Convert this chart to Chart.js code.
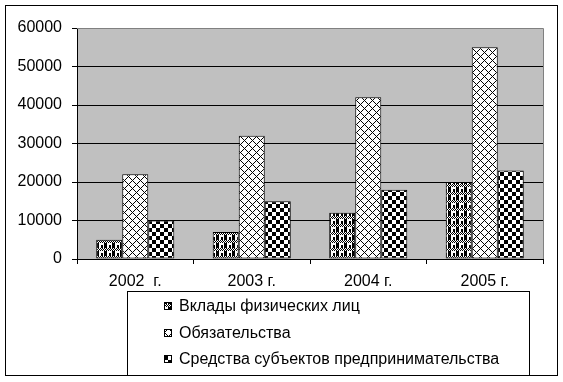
<!DOCTYPE html>
<html>
<head>
<meta charset="utf-8">
<script src="https://cdn.jsdelivr.net/npm/chart.js@4/dist/chart.umd.min.js"></script>
<style>
  html, body { margin: 0; padding: 0; background: #fff; }
  #wrap { width: 563px; height: 382px; position: relative; }
</style>
</head>
<body>
<div id="wrap"><canvas id="chart" width="563" height="382"></canvas></div>
<script>
// ===== data =====
const YEARS = ['2002  г.', '2003 г.', '2004 г.', '2005 г.'];
const SERIES_NAMES = ['Вклады физических лиц', 'Обязательства', 'Средства субъектов предпринимательства'];
const DEPOSITS = [5000, 7000, 12000, 20000];
const LIABILITIES = [22000, 32000, 42000, 55000];
const BUSINESS_FUNDS = [10000, 15000, 18000, 23000];
const Y_TICKS = [0, 10000, 20000, 30000, 40000, 50000, 60000];

const FONT = '"Liberation Sans", Arial, sans-serif';

// 8x8 monochrome tiles -> canvas patterns
function makePattern(isBlack) {
  const c = document.createElement('canvas');
  c.width = 8; c.height = 8;
  const g = c.getContext('2d');
  const img = g.createImageData(8, 8);
  for (let y = 0; y < 8; y++) {
    for (let x = 0; x < 8; x++) {
      const v = isBlack(x, y) ? 0 : 255;
      const i = (y * 8 + x) * 4;
      img.data[i] = img.data[i + 1] = img.data[i + 2] = v;
      img.data[i + 3] = 255;
    }
  }
  g.putImageData(img, 0, 0);
  return g.createPattern(c, 'repeat');
}

// fine checker band + blocky rows
const patDeposits = makePattern((x, y) => y < 3 ? (x + y) % 2 === 0 : (x % 8 < 3 || (x % 8 > 4 && x % 8 < 7 && y > 4)));
const patLiab = makePattern((x, y) => x === y || x === (8 - y) % 8);
const patBusiness = makePattern((x, y) => ((x >> 2) + (y >> 2)) % 2 === 0);
const PATTERNS = [patDeposits, patLiab, patBusiness];

// frame, plot background, right/top gray border and legend box
const framePlugin = {
  id: 'frame',
  beforeDraw(chart) {
    const { ctx, chartArea: a } = chart;
    ctx.save();
    ctx.fillStyle = '#fff';
    ctx.fillRect(0, 0, chart.width, chart.height);
    ctx.fillStyle = '#c0c0c0';
    ctx.fillRect(a.left, a.top, a.right - a.left, a.bottom - a.top);
    ctx.restore();
  },
  afterDraw(chart) {
    const { ctx, chartArea: a } = chart;
    ctx.save();
    ctx.lineWidth = 1;
    // gray plot border (top / right)
    ctx.strokeStyle = '#808080';
    ctx.beginPath();
    ctx.moveTo(a.left, a.top + 0.5);
    ctx.lineTo(a.right + 0.5, a.top + 0.5);
    ctx.lineTo(a.right + 0.5, a.bottom);
    ctx.stroke();
    // outer frame
    ctx.strokeStyle = '#000';
    ctx.strokeRect(5.5, 5.5, 552, 370);
    // legend box
    ctx.strokeRect(127.5, 291.5, 402, 84);
    ctx.font = '16px ' + FONT;
    ctx.textBaseline = 'middle';
    chart.data.datasets.forEach((ds, i) => {
      const cy = Math.round(306 + i * 26.5);
      ctx.fillStyle = ds.backgroundColor;
      ctx.fillRect(164, cy - 4, 8, 8);
      ctx.strokeStyle = '#000';
      ctx.strokeRect(164.5, cy - 3.5, 7, 7);
      ctx.fillStyle = '#000';
      ctx.fillText(ds.label, 179, cy + 1);
    });
    ctx.restore();
  }
};

new Chart(document.getElementById('chart'), {
  type: 'bar',
  data: {
    labels: YEARS,
    datasets: [DEPOSITS, LIABILITIES, BUSINESS_FUNDS].map((d, i) => ({
      label: SERIES_NAMES[i],
      data: d,
      backgroundColor: PATTERNS[i],
      borderColor: '#000',
      borderWidth: 1,
      borderSkipped: false,
      categoryPercentage: 0.67,
      barPercentage: 1
    }))
  },
  options: {
    responsive: false,
    animation: false,
    layout: { padding: { top: 28, right: 20, left: 0, bottom: 0 } },
    plugins: { legend: { display: false }, tooltip: { enabled: false } },
    scales: {
      x: {
        afterFit: s => { s.height = 123; },
        grid: { offset: true, drawOnChartArea: false, drawTicks: true, tickLength: 5, color: '#000', tickColor: '#000' },
        border: { color: '#000' },
        ticks: { color: '#000', font: { family: FONT, size: 16 }, padding: 8, maxRotation: 0 }
      },
      y: {
        min: 0, max: 60000,
        afterFit: s => { s.width = 77; },
        afterBuildTicks: s => { s.ticks = Y_TICKS.map(v => ({ value: v })); },
        grid: {
          color: c => c.tick && c.tick.value === 60000 ? '#808080' : '#000',
          tickColor: '#000', tickLength: 5
        },
        border: { color: '#000' },
        ticks: { color: '#000', font: { family: FONT, size: 16 }, padding: 10, callback: v => String(v) }
      }
    }
  },
  plugins: [framePlugin]
});
</script>
</body>
</html>
